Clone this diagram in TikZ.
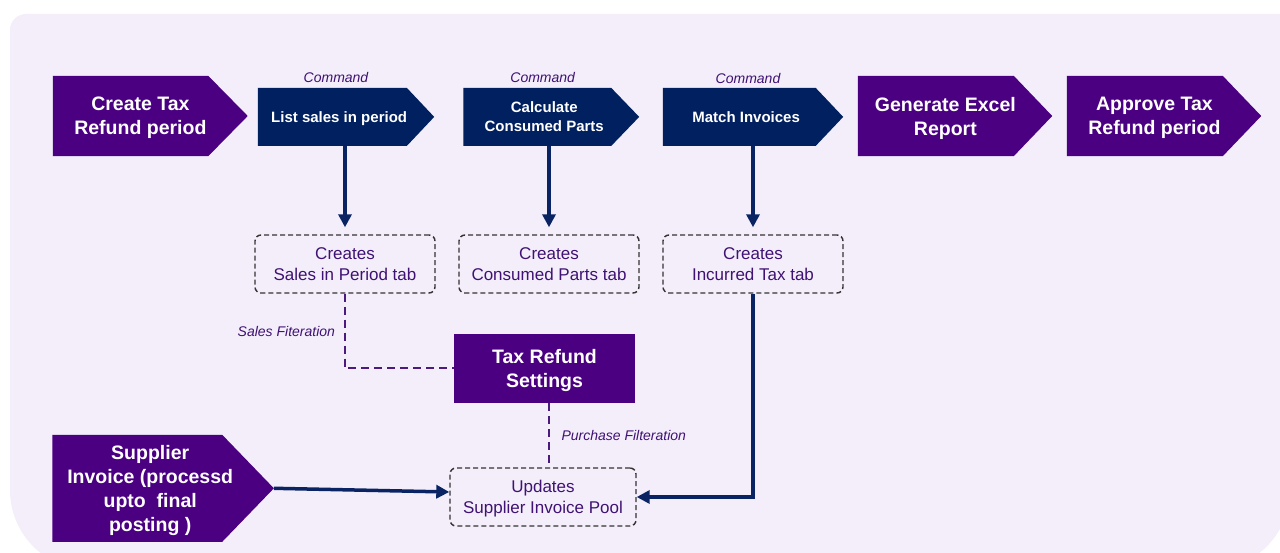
\documentclass[tikz,border=0pt]{standalone}
\usepackage{fontspec}
\setmainfont{Liberation Sans}
\usetikzlibrary{arrows.meta,calc}
\pgfdeclarelayer{bglayer}
\pgfdeclarelayer{shapelayer}
\pgfsetlayers{bglayer,shapelayer,main}
\definecolor{bgc}{HTML}{F3EEFA}
\definecolor{indig}{HTML}{4B0082}
\definecolor{navy}{HTML}{002060}
\definecolor{arrc}{HTML}{0A2463}
\definecolor{txtp}{HTML}{3F1273}
\definecolor{dashp}{HTML}{4A1A7E}
\definecolor{boxedge}{HTML}{333333}
\tikzset{
 bigtext/.style={text=white, font=\fontsize{19.5}{24}\selectfont\bfseries, align=center, inner sep=0pt, minimum height=80pt, text depth=-2pt},
 cmdtext/.style={text=white, font=\fontsize{15}{19}\selectfont\bfseries, align=center, inner sep=0pt, minimum height=57.7pt, text depth=-3pt},
 dbox/.style={draw=boxedge, dash pattern=on 5pt off 3pt, line width=1.4pt, rounded corners=6pt, text=txtp, font=\fontsize{17}{21}\selectfont, align=center, inner sep=0pt, minimum width=180pt, minimum height=58pt, text depth=-2pt},
 setbox/.style={fill=indig, text=white, font=\fontsize{19.5}{24}\selectfont\bfseries, align=center, minimum width=181pt, minimum height=69.3pt, inner sep=0pt, text depth=-2pt},
 itlabel/.style={text=txtp, font=\fontsize{14}{16}\selectfont\itshape, inner sep=0pt},
 arr/.style={draw=arrc, line width=3.5pt, -{Triangle[width=13pt,length=13pt]}},
 dline/.style={draw=dashp, line width=2pt, dash pattern=on 8pt off 5pt},
}
\newcommand\pentfill[3]{%
 \begin{pgfonlayer}{shapelayer}
 \fill[#3] (#1.north west) -- ([xshift=-0.5*#2pt]#1.north east) -- ([xshift=0.5*#2pt]#1.east) -- ([xshift=-0.5*#2pt]#1.south east) -- (#1.south west) -- cycle;
 \end{pgfonlayer}}
\begin{document}
\begin{tikzpicture}[x=1pt,y=-1pt]
\useasboundingbox (0,0) rectangle (1280,553);
\begin{pgfonlayer}{bglayer}
\fill[white] (0,0) rectangle (1280,553);
\begin{scope}
\clip (0,0) rectangle (1280,553);
\fill[bgc, rounded corners=16pt] (10,14) rectangle (1300,300);
\fill[bgc, rounded corners=80pt] (10,100) rectangle (1290,570);
\end{scope}
\end{pgfonlayer}

% top row
\node[bigtext, minimum width=174.75pt, text depth=-3pt] (create) at (140.4,116) {Create Tax\\Refund period};
\node[cmdtext, minimum width=162.3pt] (list) at (339.15,116.9) {List sales in period};
\node[cmdtext, minimum width=161.5pt, text depth=-6pt] (calc) at (544.25,116.9) {Calculate\\Consumed Parts};
\node[cmdtext, minimum width=166.25pt] (match) at (746.1,116.9) {Match Invoices};
\node[bigtext, minimum width=174.75pt] (gen) at (945.4,116) {Generate Excel\\Report};
\node[bigtext, minimum width=174.75pt, text depth=-3pt] (approve) at (1154.4,116) {Approve Tax\\Refund period};
\node[bigtext, minimum width=195.25pt, minimum height=106.7pt] (supp) at (150.2,488.3) {Supplier\\Invoice (processd\\upto\ \ final\\posting )};

\pentfill{create}{39.5}{indig}
\pentfill{list}{27.4}{navy}
\pentfill{calc}{28}{navy}
\pentfill{match}{27.5}{navy}
\pentfill{gen}{38.5}{indig}
\pentfill{approve}{38.5}{indig}
\pentfill{supp}{51.7}{indig}

\node[itlabel] (cmd1) at (336,77.7) {Command};
\node[itlabel] (cmd2) at (542.7,77.7) {Command};
\node[itlabel] (cmd3) at (748,79) {Command};

% boxes
\node[dbox] (sales) at (345,264) {Creates\\Sales in Period tab};
\node[dbox] (consumed) at (549,264) {Creates\\Consumed Parts tab};
\node[dbox] (incurred) at (753,264) {Creates\\Incurred Tax tab};
\node[setbox] (settings) at (544.5,368.35) {Tax Refund\\Settings};
\node[dbox, minimum width=186pt] (updates) at (543,497) {Updates\\Supplier Invoice Pool};

% connectors
\draw[arr, shorten >=7pt] (list.south -| sales.north) -- (sales.north);
\draw[arr, shorten >=7pt] (calc.south -| consumed.north) -- (consumed.north);
\draw[arr, shorten >=7pt] (match.south -| incurred.north) -- (incurred.north);
\draw[dline] (sales.south) |- (settings.west) node[pos=0.25, left=9pt, itlabel] {Sales Fiteration};
\draw[dline] ([xshift=4pt]settings.south) -- ([xshift=4pt]settings.south |- updates.north) node[midway, right=12pt, itlabel] {Purchase Filteration};
\draw[arr] ([xshift=25.85pt]supp.east) -- ([yshift=5pt]updates.west);
\draw[arr] (incurred.south) |- (updates.east);
\end{tikzpicture}
\end{document}
